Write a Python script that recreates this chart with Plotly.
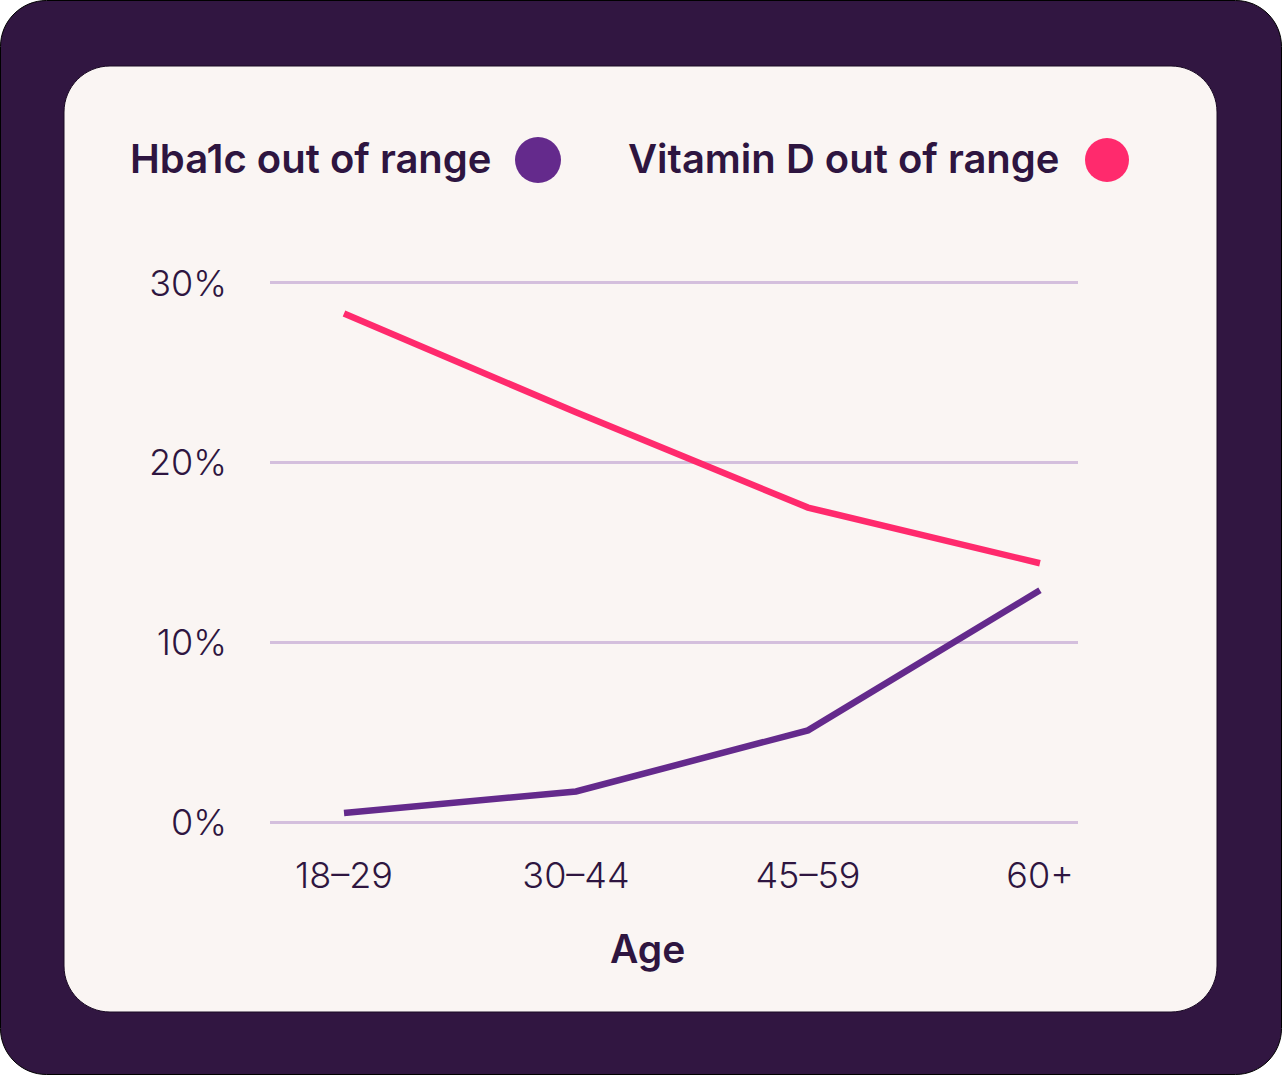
import plotly.graph_objects as go

# ---- data ----
age_groups = ["18–29", "30–44", "45–59", "60+"]
hba1c_out = [0.5, 1.7, 5.1, 12.9]
vitd_out = [28.3, 22.8, 17.5, 14.4]
y_ticks = [0, 10, 20, 30]
y_tick_text = ["0%", "10%", "20%", "30%"]
series_names = ["Hba1c out of range", "Vitamin D out of range"]
x_title = "Age"

# ---- style ----
W, H = 1282, 1075
PL, PR = 270, 1078          # plot area x (px)
PT, PB = 274, 831           # plot area y (px)
BG_DARK = "#311641"
CARD = "#FAF5F3"
TEXT = "#2E1540"
GRID = "#D4BFDD"
PURPLE = "#642A8C"
PINK = "#FF2A6D"
FONT = "Inter"


def px(x):
    return (x - PL) / (PR - PL)


def py(y):
    return (PB - y) / (PB - PT)


def rounded(x0, y0, x1, y1, r):
    k = 0.5523 * r
    pts = [
        f"M{px(x0 + r)},{py(y0)}",
        f"L{px(x1 - r)},{py(y0)}",
        f"C{px(x1 - r + k)},{py(y0)} {px(x1)},{py(y0 + r - k)} {px(x1)},{py(y0 + r)}",
        f"L{px(x1)},{py(y1 - r)}",
        f"C{px(x1)},{py(y1 - r + k)} {px(x1 - r + k)},{py(y1)} {px(x1 - r)},{py(y1)}",
        f"L{px(x0 + r)},{py(y1)}",
        f"C{px(x0 + r - k)},{py(y1)} {px(x0)},{py(y1 - r + k)} {px(x0)},{py(y1 - r)}",
        f"L{px(x0)},{py(y0 + r)}",
        f"C{px(x0)},{py(y0 + r - k)} {px(x0 + r - k)},{py(y0)} {px(x0 + r)},{py(y0)}",
        "Z",
    ]
    return " ".join(pts)


fig = go.Figure()
fig.add_trace(go.Scatter(x=age_groups, y=vitd_out, mode="lines", name=series_names[1],
                         line=dict(color=PINK, width=6.5), cliponaxis=False))
fig.add_trace(go.Scatter(x=age_groups, y=hba1c_out, mode="lines", name=series_names[0],
                         line=dict(color=PURPLE, width=6.5), cliponaxis=False))

shapes = [
    dict(type="path", xref="paper", yref="paper", path=rounded(0.5, 0.5, 1281.5, 1074.5, 46),
         fillcolor=BG_DARK, line=dict(color="#000000", width=1), layer="below"),
    dict(type="path", xref="paper", yref="paper", path=rounded(64, 66, 1217, 1012, 46),
         fillcolor=CARD, line=dict(color="#1a0a24", width=1), layer="below"),
]
# legend dots
for cx, cy, r, col in [(538, 160, 23, PURPLE), (1107, 160, 22, PINK)]:
    shapes.append(dict(type="circle", xref="paper", yref="paper",
                       x0=px(cx - r), x1=px(cx + r), y0=py(cy + r), y1=py(cy - r),
                       fillcolor=col, line=dict(width=0), layer="above"))

annotations = [
    dict(text=series_names[0], xref="paper", yref="paper", x=px(494), y=py(158),
         xanchor="right", yanchor="middle", showarrow=False,
         font=dict(family=FONT, size=40, color=TEXT, weight=600)),
    dict(text=series_names[1], xref="paper", yref="paper", x=px(1062), y=py(158),
         xanchor="right", yanchor="middle", showarrow=False,
         font=dict(family=FONT, size=40, color=TEXT, weight=600)),
    dict(text=x_title, xref="paper", yref="paper", x=px(647), y=py(948),
         xanchor="center", yanchor="middle", showarrow=False,
         font=dict(family=FONT, size=39, color=TEXT, weight=600)),
]

fig.update_layout(
    width=W, height=H,
    margin=dict(l=PL, r=W - PR, t=PT, b=H - PB, pad=0),
    paper_bgcolor="#FFFFFF",
    plot_bgcolor="rgba(0,0,0,0)",
    showlegend=False,
    shapes=shapes,
    annotations=annotations,
    xaxis=dict(
        type="category", range=[-0.319, 3.164], showgrid=False, zeroline=False,
        showline=False, ticks="", ticklabelstandoff=20,
        tickfont=dict(family=FONT, size=36, color=TEXT, weight=300),
    ),
    yaxis=dict(
        range=[-0.5, 30.5], tickvals=y_ticks, ticktext=y_tick_text,
        showgrid=True, gridcolor=GRID, gridwidth=2.5, zeroline=False,
        showline=False, ticks="", ticklabelstandoff=42,
        tickfont=dict(family=FONT, size=36, color=TEXT, weight=300),
    ),
)

fig.write_html("out.html", config={"displayModeBar": False},
               post_script="document.body.style.margin='0';")
